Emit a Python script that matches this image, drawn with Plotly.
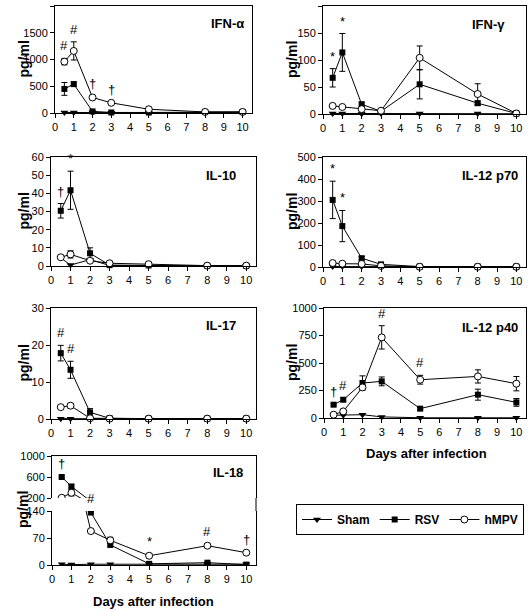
import plotly.graph_objects as go

W, H = 528, 611

# ---------------- data ----------------
days = [0.5, 1, 2, 3, 5, 8, 10]
series_names = ["Sham", "RSV", "hMPV"]

ifna_sham = [10, 8, 10, 5, 5, 10, 10]
ifna_rsv = [450, 540, 30, 10, 10, 20, 20]
ifna_rsv_err = [120, 40, 10, 5, 5, 5, 5]
ifna_hmpv = [960, 1160, 290, 190, 70, 20, 20]
ifna_hmpv_err = [60, 170, 20, 15, 10, 5, 5]

ifng_sham = [1, 1, 0.5, 1, 1, 1, 0.5]
ifng_rsv = [67, 114, 18, 5, 55, 20, 1]
ifng_rsv_err = [17, 35, 4, 2, 27, 4, 0.5]
ifng_hmpv = [15, 13, 9, 6, 104, 37, 1]
ifng_hmpv_err = [2, 2, 1, 1, 22, 19, 0.5]

il10_sham = [4.5, 0.5, 3.5, 0.3, 0.2, 0.1, 0.1]
il10_rsv = [30.4, 41.7, 7, 0.5, 0.3, 0.1, 0.1]
il10_rsv_err = [4, 10.5, 3, 0.3, 0.2, 0.1, 0.1]
il10_hmpv = [4.8, 6.4, 2.9, 1.5, 1.0, 0.2, 0.2]
il10_hmpv_err = [0.8, 2, 0.6, 0.3, 0.2, 0.1, 0.1]

il12p70_sham = [2, 2, 2, 2, 1, 1, 1]
il12p70_rsv = [305, 186, 40, 12, 2, 2, 2]
il12p70_rsv_err = [85, 71, 8, 4, 1, 1, 1]
il12p70_hmpv = [18, 15, 14, 5, 1, 1, 1]
il12p70_hmpv_err = [3, 3, 3, 1, 0.5, 0.5, 0.5]

il17_sham = [0.1, 0.1, 0.1, 0.1, 0, 0, 0]
il17_rsv = [17.8, 13.3, 1.8, 0.2, 0.1, 0.1, 0.1]
il17_rsv_err = [2.1, 2.3, 1.0, 0.1, 0, 0, 0]
il17_hmpv = [3.2, 3.6, 0.2, 0.1, 0.1, 0.1, 0.1]
il17_hmpv_err = [0.3, 0.6, 0.1, 0, 0, 0, 0]

il12p40_sham = [25, 25, 30, 10, 2, 2, 2]
il12p40_rsv = [121, 166, 318, 333, 85, 212, 142]
il12p40_rsv_err = [10, 15, 65, 40, 10, 50, 35]
il12p40_hmpv = [30, 60, 278, 733, 348, 378, 312]
il12p40_hmpv_err = [5, 10, 20, 106, 40, 60, 65]

il18_sham = [2, 1, 2, 2, 1, 2, 2]
il18_rsv = [600, 420, 136, 52, 3, 6, 1]
il18_rsv_err = [20, 30, 3, 4, 1, 2, 0.5]
il18_hmpv = [205, 300, 88, 64, 24, 50, 32]
il18_hmpv_err = [10, 60, 5, 8, 5, 5, 3]

# significance marks: (day, series, symbol)
ifna_sig = [(0.5, "hMPV", "#"), (1, "hMPV", "#"), (2, "hMPV", "†"), (3, "hMPV", "†")]
ifng_sig = [(0.5, "RSV", "*"), (1, "RSV", "*")]
il10_sig = [(0.5, "RSV", "†"), (1, "RSV", "*")]
il12p70_sig = [(0.5, "RSV", "*"), (1, "RSV", "*")]
il17_sig = [(0.5, "RSV", "#"), (1, "RSV", "#")]
il12p40_sig = [(0.5, "RSV", "†"), (1, "RSV", "#"), (3, "hMPV", "#"), (5, "hMPV", "#")]
il18_sig = [(0.5, "RSV", "†"), (2, "RSV", "#"), (5, "hMPV", "*"), (8, "hMPV", "#"), (10, "hMPV", "†")]

# ---------------- helpers ----------------
def px(x):
    return x / W

def py(y):
    return 1 - y / H

FONT = "Liberation Sans, Arial, Helvetica, sans-serif"
marker_style = {
    "Sham": dict(symbol="triangle-down", size=7, color="black"),
    "RSV": dict(symbol="square", size=6, color="black"),
    "hMPV": dict(symbol="circle", size=7, color="white", line=dict(color="black", width=1)),
}

panels = [
    dict(title="IFN-α", data=(ifna_sham, ifna_rsv, ifna_rsv_err, ifna_hmpv, ifna_hmpv_err), sig=ifna_sig,
         xd=(55, 252), yd=(6, 113), yr=(0, 2000), dt=500, title_pos=(246, 23), col=0),
    dict(title="IFN-γ", data=(ifng_sham, ifng_rsv, ifng_rsv_err, ifng_hmpv, ifng_hmpv_err), sig=ifng_sig,
         xd=(323, 526), yd=(6, 114), yr=(0, 200), dt=50, title_pos=(507, 25), col=1),
    dict(title="IL-10", data=(il10_sham, il10_rsv, il10_rsv_err, il10_hmpv, il10_hmpv_err), sig=il10_sig,
         xd=(51, 256), yd=(157, 266), yr=(0, 60), dt=10, title_pos=(238, 175), col=0),
    dict(title="IL-12 p70", data=(il12p70_sham, il12p70_rsv, il12p70_rsv_err, il12p70_hmpv, il12p70_hmpv_err), sig=il12p70_sig,
         xd=(323, 526), yd=(157, 267), yr=(0, 500), dt=100, title_pos=(520, 175), col=1),
    dict(title="IL-17", data=(il17_sham, il17_rsv, il17_rsv_err, il17_hmpv, il17_hmpv_err), sig=il17_sig,
         xd=(51, 256), yd=(308, 419), yr=(0, 30), dt=10, title_pos=(238, 325), col=0),
    dict(title="IL-12 p40", data=(il12p40_sham, il12p40_rsv, il12p40_rsv_err, il12p40_hmpv, il12p40_hmpv_err), sig=il12p40_sig,
         xd=(324, 526), yd=(308, 418), yr=(0, 1000), dt=250, title_pos=(520, 327), col=1),
]

fig = go.Figure()
annotations = []
layout = {}

axis_common = dict(showline=True, linecolor="black", linewidth=1, ticks="outside", ticklen=4,
                   tickcolor="black", showgrid=False, zeroline=False,
                   tickfont=dict(family=FONT, size=11, color="black"))


def add_series(data, xa, ya, legend, clip):
    sham, rsv, rsv_err, hmpv, hmpv_err = data
    vals = {"Sham": (sham, None), "RSV": (rsv, rsv_err), "hMPV": (hmpv, hmpv_err)}
    for nm in series_names:
        v, e = vals[nm]
        fig.add_trace(go.Scatter(
            x=days, y=v, mode="lines+markers", name=nm, showlegend=legend,
            line=dict(color="black", width=1), marker=marker_style[nm],
            error_y=(dict(type="data", array=e, visible=True, color="black", thickness=1, width=3)
                     if e is not None else None),
            xaxis=xa, yaxis=ya, cliponaxis=clip,
        ))
    return vals


def add_sig(sig, vals, xref, yref_for):
    for d, nm, sym in sig:
        v, e = vals[nm]
        i = days.index(d)
        yv = v[i] + (e[i] if e else 0)
        annotations.append(dict(x=d, y=yv, xref=xref, yref=yref_for(yv), text=sym, showarrow=False,
                                xanchor="center", yanchor="bottom", yshift=3,
                                font=dict(family=FONT, size=13, color="black")))


def paper_text(x, y, text, size, angle=0, xanchor="center"):
    annotations.append(dict(x=px(x), y=py(y), xref="paper", yref="paper", xanchor=xanchor, yanchor="middle",
                            text=text, textangle=angle, showarrow=False,
                            font=dict(family=FONT, size=size, color="black")))


for k, p in enumerate(panels, start=1):
    xa, ya = f"x{k}", f"y{k}"
    vals = add_series(p["data"], xa, ya, k == 1, False)
    lo, hi = p["yr"]
    yticks = [lo + j * p["dt"] for j in range(int(round((hi - lo) / p["dt"])) + 1)]
    layout[f"xaxis{k}"] = dict(axis_common, domain=[px(p["xd"][0]), px(p["xd"][1])], range=[0, 10.5],
                               tickvals=list(range(0, 11)), anchor=ya, mirror=True)
    layout[f"yaxis{k}"] = dict(axis_common, domain=[py(p["yd"][1]), py(p["yd"][0])], range=[lo, hi],
                               tickvals=yticks, anchor=xa, mirror=True)
    add_sig(p["sig"], vals, xa, lambda yv, ya=ya: ya)
    tx, ty = p["title_pos"]
    paper_text(tx, ty, f"<b>{p['title']}</b>", 13, xanchor="right")
    cx = 23 if p["col"] == 0 else 292
    paper_text(cx, (p["yd"][0] + p["yd"][1]) / 2, "<b>pg/ml</b>", 14, angle=-90)

# IL-18 broken axis: lower (x7, y7) and upper (x8, y8)
il18_data = (il18_sham, il18_rsv, il18_rsv_err, il18_hmpv, il18_hmpv_err)
vals18 = add_series(il18_data, "x7", "y7", False, True)
add_series(il18_data, "x8", "y8", False, True)
xd18 = [px(52), px(256)]
layout["xaxis7"] = dict(axis_common, domain=xd18, range=[0, 10.5], tickvals=list(range(0, 11)), anchor="y7")
layout["yaxis7"] = dict(axis_common, domain=[py(565), py(511)], range=[0, 140], tickvals=[0, 70, 140],
                        anchor="x7", mirror=True)
layout["xaxis8"] = dict(axis_common, domain=xd18, range=[0, 10.5], anchor="y8", side="top",
                        ticks="", showticklabels=False, matches="x7")
layout["yaxis8"] = dict(axis_common, domain=[py(498), py(456)], range=[200, 1000], tickvals=[200, 600, 1000],
                        anchor="x8", mirror=True)
add_sig(il18_sig, vals18, "x7", lambda yv: "y8" if yv >= 200 else "y7")
for a in annotations:
    if a.get("yref") == "y8":
        a["xref"] = "x8"
paper_text(245, 473, "<b>IL-18</b>", 13, xanchor="right")
paper_text(23, 510, "<b>pg/ml</b>", 14, angle=-90)

paper_text(426, 453, "<b>Days after infection</b>", 13)
paper_text(153, 601, "<b>Days after infection</b>", 13)

shapes = [dict(type="line", xref="paper", yref="paper", x0=px(256), x1=px(256), y0=py(498), y1=py(511),
               line=dict(color="black", width=1))]

fig.update_layout(
    width=W, height=H, margin=dict(l=0, r=0, t=0, b=0, autoexpand=False),
    paper_bgcolor="white", plot_bgcolor="white",
    font=dict(family=FONT, color="black"),
    annotations=annotations, shapes=shapes,
    legend=dict(orientation="h", x=px(524), xanchor="right", y=py(504), yanchor="top",
                bordercolor="black", borderwidth=1, bgcolor="white",
                font=dict(family=FONT, size=12, color="black", weight="bold"),
                itemwidth=30),
    **layout,
)

fig.write_html(
    "out.html",
    config={"displayModeBar": False},
    post_script="document.body.style.margin='0';document.body.style.padding='0';"
                "document.documentElement.style.overflow='hidden';",
)
